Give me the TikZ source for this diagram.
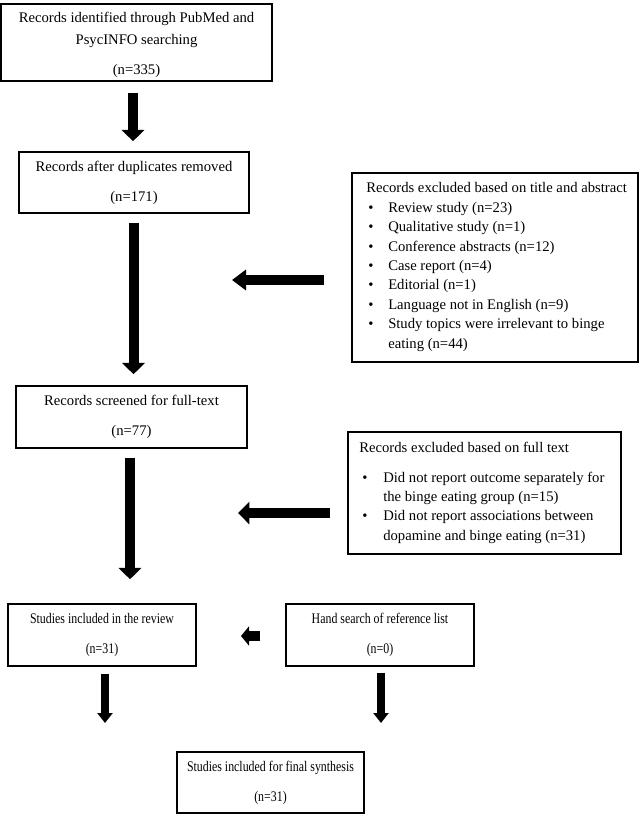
\documentclass[tikz,border=0pt]{standalone}
\usepackage{fontspec}
\setmainfont{Liberation Serif}
\newfontfamily\narrowfont[FakeStretch=0.81]{Liberation Serif}
\usetikzlibrary{arrows.meta,calc}
\newcommand{\bulA}{\hspace*{1.5pt}\makebox[15pt][l]{\textbullet}}
\newcommand{\bulB}{\hspace*{2.25pt}\makebox[15.75pt][l]{\textbullet}}
\begin{document}
\begin{tikzpicture}[x=0.75pt,y=-0.75pt,
  txt/.style={font=\fontsize{11}{14.55}\selectfont},
  small/.style={font=\narrowfont\fontsize{11}{14.55}\selectfont},
  box/.style={draw, line width=1.1pt, inner sep=0pt, align=center, txt},
  listtext/.style={inner sep=0pt, align=left, anchor=north west, txt},
  fat/.style={line width=7.5pt, -{Triangle[width=16.5pt,length=8.5pt]}},
  fatH/.style={line width=7.5pt, -{Triangle[width=15pt,length=10.5pt]}},
  fatS/.style={line width=7.5pt, -{Triangle[width=14.25pt,length=6pt]}},
  thin/.style={line width=6pt, -{Triangle[width=11.25pt,length=7.5pt]}}]
\useasboundingbox (0,0) rectangle (640,814);

\node[box, minimum width=203.25pt, minimum height=57.75pt] (b1) at (136.5,42.5)
  {\rule{0pt}{11.2pt}Records identified through PubMed and\\[2pt] PsycINFO searching\\[8pt] (n=335)};
\node[box, minimum width=172.5pt, minimum height=45.75pt] (b2) at (134,182.5)
  {Records after duplicates removed\\[8pt] (n=171)};
\node[box, minimum width=173.25pt, minimum height=46.5pt] (b3) at (131.5,417)
  {Records screened for full-text\\[8pt] (n=77)};
\node[box, small, minimum width=141pt, minimum height=46.5pt] (b4) at (102,635)
  {Studies included in the review\\[8.5pt] (n=31)};
\node[box, small, minimum width=141pt, minimum height=46.5pt] (b5) at (380,635)
  {Hand search of reference list\\[8.5pt] (n=0)};
\node[box, small, minimum width=140.25pt, minimum height=45.75pt] (b6) at (270.5,782.5)
  {Studies included for final synthesis\\[8pt] (n=31)};

\node[box, minimum width=214.5pt, minimum height=141.75pt] (rb1) at (495,267.5) {};
\node[listtext] (rb1t) at (366,182.4)
  {Records excluded based on title and abstract\\
   \bulA Review study (n=23)\\
   \bulA Qualitative study (n=1)\\
   \bulA Conference abstracts (n=12)\\
   \bulA Case report (n=4)\\
   \bulA Editorial (n=1)\\
   \bulA Language not in English (n=9)\\
   \bulA Study topics were irrelevant to binge\\
   \hspace*{16.5pt}eating (n=44)};

\node[box, minimum width=204.75pt, minimum height=91.5pt] (rb2) at (484.5,493) {};
\node[listtext] (rb2t) at (359,441.4)
  {Records excluded based on full text\\[8pt]
   \bulB Did not report outcome separately for\\
   \hspace*{18pt}the binge eating group (n=15)\\
   \bulB Did not report associations between\\
   \hspace*{18pt}dopamine and binge eating (n=31)};

\coordinate (t1) at (232,280);
\coordinate (t2) at (238,513);
\coordinate (t3) at (241,636);
\coordinate (t4) at (105,723);
\coordinate (t5) at (381,723);

\draw[fat] ($(b1.south)+(-3.5,11)$) -- ($(b2.north)+(-1,-10)$);
\draw[fat] ($(b2.south)+(-0.5,9)$) -- ($(b3.north)+(2,-11)$);
\draw[fat] ($(b3.south)+(-1.5,9)$) -- ($(b4.north)+(28,-24)$);
\draw[fatH] ($(rb1.west)+(-27,12.5)$) -- (t1);
\draw[fat] ($(rb2.west)+(-17,20)$) -- (t2);
\draw[fatS] ($(b5.west)+(-25,1)$) -- (t3);
\draw[thin] ($(b4.south)+(3,7)$) -- (t4);
\draw[thin] ($(b5.south)+(1,6)$) -- (t5);
\end{tikzpicture}
\end{document}
